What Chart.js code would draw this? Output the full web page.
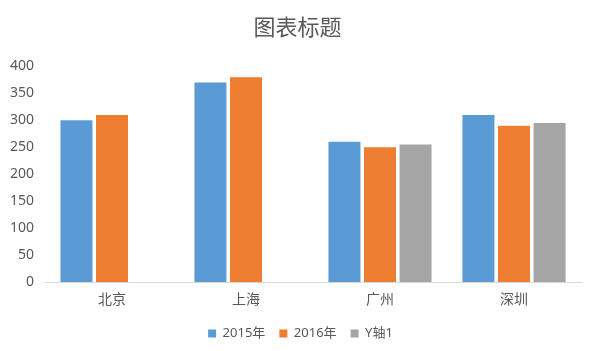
<!DOCTYPE html>
<html><head><meta charset="utf-8">
<script src="https://cdn.jsdelivr.net/npm/chart.js@4"></script>
<style>html,body{margin:0;padding:0;background:#fff}#w{width:589px;height:351px}</style>
</head><body><div id="w"><canvas id="c"></canvas></div>
<script>
const categories = ['北京', '上海', '广州', '深圳'];
const s2015 = [300, 370, 260, 310];
const s2016 = [310, 380, 250, 290];
const sY1 = [null, null, 255, 295];
const seriesNames = ['2015年', '2016年', 'Y轴1'];
const yTicks = [0, 50, 100, 150, 200, 250, 300, 350, 400];

const FONT = "'Noto Sans', 'Noto Sans CJK SC', sans-serif";
const shiftPlugin = {
  id: 'shift',
  afterLayout(chart) {
    const t = chart.titleBlock; t.left += 7; t.right += 7;
    const l = chart.legend; l.left += 10; l.right += 10;
  }
};
new Chart(document.getElementById('c'), {
  type: 'bar',
  data: {
    labels: categories,
    datasets: [
      {label: seriesNames[0], data: s2015, backgroundColor: '#5b9bd5'},
      {label: seriesNames[1], data: s2016, backgroundColor: '#ed7d31'},
      {label: seriesNames[2], data: sY1, backgroundColor: '#a5a5a5'}
    ]
  },
  plugins: [shiftPlugin],
  options: {
    responsive: true, maintainAspectRatio: false, animation: false,
    datasets: {bar: {categoryPercentage: 0.796, barPercentage: 0.9}},
    layout: {padding: {left: 0, right: 8, top: 0, bottom: 1}},
    plugins: {
      title: {display: true, text: '图表标题', color: '#595959',
        font: {family: FONT, size: 22, weight: 'normal'}, padding: {top: 16, bottom: 24}},
      legend: {position: 'bottom', labels: {color: '#595959', font: {family: FONT, size: 13},
        usePointStyle: true, pointStyle: 'rect', boxWidth: 8, boxHeight: 8, padding: 14}},
      tooltip: {enabled: false}
    },
    scales: {
      x: {grid: {display: false, drawTicks: false}, border: {color: '#d9d9d9'},
        ticks: {color: '#595959', font: {family: FONT, size: 14}, padding: 10},
        afterFit: a => { a.height = 31; }},
      y: {min: 0, max: 400, afterBuildTicks: a => { a.ticks = yTicks.map(v => ({value: v})); },
        grid: {display: false, drawTicks: false}, border: {display: false},
        ticks: {color: '#595959', font: {family: FONT, size: 14}, padding: 11},
        afterFit: a => { a.width = 45; }}
    }
  }
});
</script></body></html>
